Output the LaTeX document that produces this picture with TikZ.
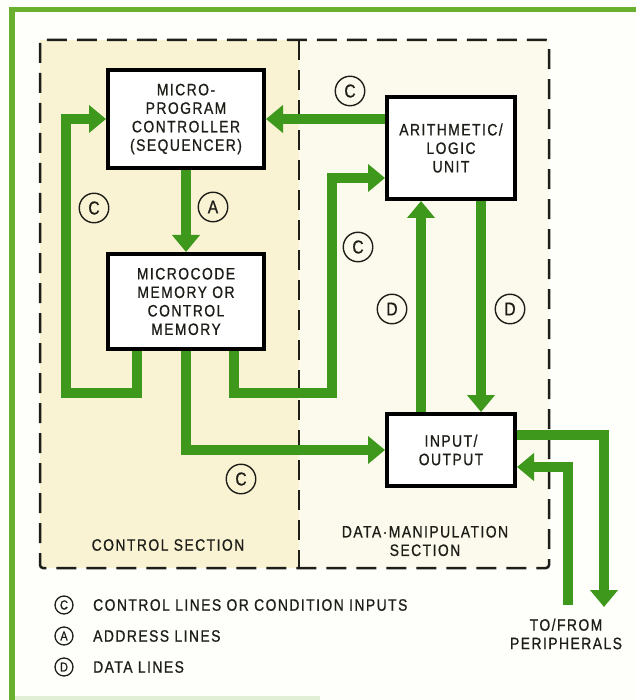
\documentclass[tikz,border=0pt]{standalone}
\usepackage{fontspec}
\setmainfont{Liberation Sans}[FakeStretch=0.84,LetterSpace=9,FakeBold=0.8]
\usetikzlibrary{arrows.meta,calc}
\definecolor{frameg}{RGB}{104,176,46}
\definecolor{arrg}{RGB}{62,152,28}
\definecolor{ctrlfill}{RGB}{249,243,212}
\definecolor{datafill}{RGB}{252,250,236}
\definecolor{bgc}{RGB}{254,254,250}
\definecolor{ink}{RGB}{30,30,25}
\newcommand{\boxfont}{\fontsize{16.5}{18.5}\selectfont}
\newcommand{\tagfont}{\fontsize{18.5}{18.5}\selectfont}
\newcommand{\ltagfont}{\fontsize{13}{13}\selectfont}
\begin{document}
\begin{tikzpicture}[x=1pt,y=-1pt,
  box/.style={draw=black,line width=4pt,fill=white,inner sep=0pt,align=center,text=ink,font=\boxfont},
  arr/.style={draw=arrg,line width=10.5pt,-{Triangle[length=17pt,width=27pt]}},
  tag/.style={circle,draw=ink,line width=1.4pt,minimum size=29.5pt,inner sep=0pt,text=ink,font=\tagfont},
  ltag/.style={circle,draw=ink,line width=1.3pt,minimum size=18pt,inner sep=0pt,text=ink,font=\ltagfont},
  lbl/.style={text=ink,font=\boxfont,align=center,inner sep=0pt},
  sect/.style={draw=ink,line width=2.5pt,dash pattern=on 20pt off 10pt}]
\useasboundingbox (0,0) rectangle (636,700);
% background and frame
\fill[bgc] (0,0) rectangle (636,700);
\fill[frameg] (9,7) rectangle (636,12);
\fill[frameg] (9,7) rectangle (15,700);
\fill[frameg!20] (15,696) rectangle (320,700);
% sections
\fill[ctrlfill] (40,40) rectangle (299,568);
\fill[datafill] (299,40) rectangle (549,568);
\draw[sect,rounded corners=3pt] (40,40) rectangle (549,568);
\draw[sect] (299,40) -- (299,568);
% boxes
\node[box,minimum width=156pt,minimum height=98pt] (mpc) at (186,119) {MICRO-\\PROGRAM\\CONTROLLER\\(SEQUENCER)};
\node[box,minimum width=156pt,minimum height=95pt] (mcm) at (186,301.5) {MICROCODE\\MEMORY OR\\CONTROL\\MEMORY};
\node[box,minimum width=128pt,minimum height=102pt] (alu) at (451,148) {ARITHMETIC/\\LOGIC\\UNIT};
\node[box,minimum width=128pt,minimum height=72pt] (io) at (451,450) {INPUT/\\OUTPUT};
% free ends / bends
\coordinate (lL) at (66,393);
\coordinate (rL) at (332,393);
\coordinate (pOut) at (604,607);
\coordinate (pIn) at (568,605);
% connectors
\draw[arr] (mpc.south) -- (mcm.north);
\draw[arr] ($(mcm.south)+(-49,0)$) |- (lL) |- (mpc.west);
\draw[arr] (mcm.south) |- (io.west);
\draw[arr] ($(mcm.south)+(48,0)$) |- (rL) |- ($(alu.west)+(0,30)$);
\draw[arr] (mpc.east -| alu.west) -- (mpc.east);
\draw[arr] ($(io.north)+(-30,0)$) -- ($(alu.south)+(-30,0)$);
\draw[arr] ($(alu.south)+(30,0)$) -- ($(io.north)+(30,0)$);
\draw[arr] ($(io.east)+(0,-15)$) -| (pOut);
\draw[arr] (pIn) |- ($(io.east)+(0,17)$);
% line tags
\node[tag] (c1) at (94,208) {C};
\node[tag] (a1) at (213,207) {A};
\node[tag] (c2) at (350,91) {C};
\node[tag] (c3) at (358,247) {C};
\node[tag] (d1) at (392,309) {D};
\node[tag] (d2) at (510,309) {D};
\node[tag] (c4) at (241,479) {C};
% section labels
\node[lbl] (cs) at (168,545) {CONTROL SECTION};
\node[lbl] (ds) at (425,541) {DATA·MANIPULATION\\SECTION};
\node[lbl] (tf) at (566,634) {TO/FROM\\PERIPHERALS};
% legend
\node[ltag] (lc) at (64,605) {C};
\node[lbl,anchor=west] (lct) at (93,605) {CONTROL LINES OR CONDITION INPUTS};
\node[ltag] (la) at (64,636) {A};
\node[lbl,anchor=west] (lat) at (93,636) {ADDRESS LINES};
\node[ltag] (ld) at (64,667) {D};
\node[lbl,anchor=west] (ldt) at (93,667) {DATA LINES};
\end{tikzpicture}
\end{document}
